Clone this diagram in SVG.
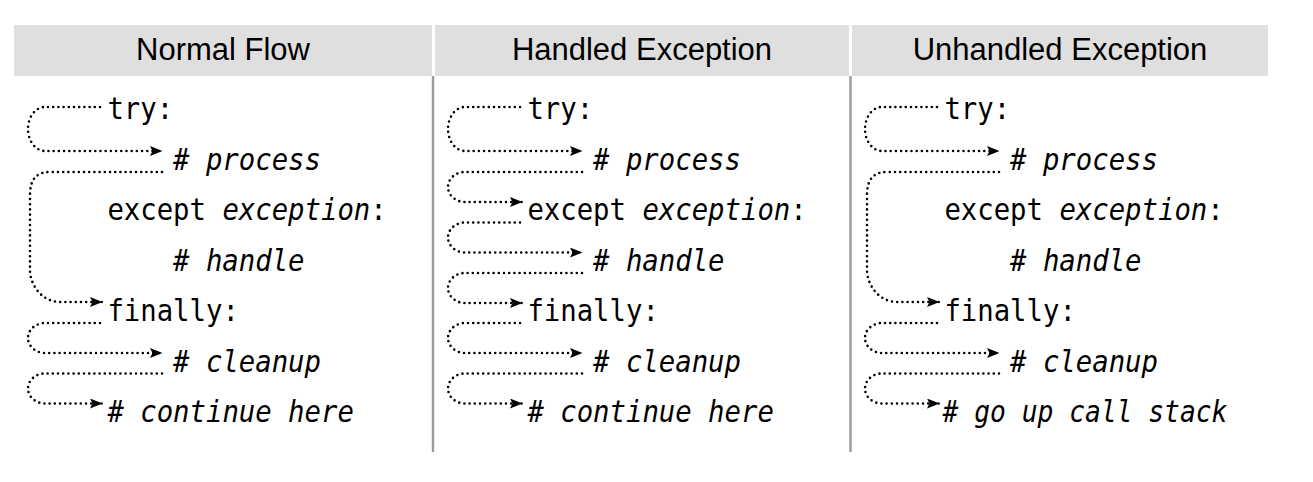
<svg xmlns="http://www.w3.org/2000/svg" width="1313" height="482" viewBox="0 0 1313 482">
<style>
.hdr{fill:#e0dfe0}
.ht{font-family:"Liberation Sans",Arial,sans-serif;font-size:31px;fill:#000;text-anchor:middle}
.code{font-family:"DejaVu Sans Mono",monospace;font-size:30px;fill:#000}
.it{font-style:italic}
.sep{stroke:#9a9a9a;stroke-width:2.4}
.dot{fill:none;stroke:#000;stroke-width:2.6;stroke-linecap:round;stroke-dasharray:0 5.2}
.arr{marker-end:url(#ah)}
</style>
<defs>
<marker id="ah" markerUnits="userSpaceOnUse" markerWidth="14" markerHeight="12" refX="12" refY="5" orient="auto">
<path d="M0,0 L12.5,5 L0,10 L2.5,5 Z" fill="#000"/>
</marker>
</defs>
<rect width="1313" height="482" fill="#fff"/>
<g id="headers">
<g id="h1"><rect class="hdr" x="14" y="25" width="418" height="51"/><text class="ht" x="223" y="60">Normal Flow</text></g>
<g id="h2"><rect class="hdr" x="435" y="25" width="414" height="51"/><text class="ht" x="642" y="60">Handled Exception</text></g>
<g id="h3"><rect class="hdr" x="852" y="25" width="416" height="51"/><text class="ht" x="1060" y="60">Unhandled Exception</text></g>
</g>
<g id="separators">
<line class="sep" x1="433" y1="76" x2="433" y2="452"/>
<line class="sep" x1="850.5" y1="76" x2="850.5" y2="452"/>
</g>
<g id="col1" transform="matrix(0.91 0 0 1 0 0)">
<text id="c1-try" class="code" x="118" y="119.5">try:</text>
<text id="c1-process" class="code it" x="190.2" y="170"># process</text>
<text id="c1-except" class="code" x="118" y="220.5">except <tspan class="it">exception</tspan>:</text>
<text id="c1-handle" class="code it" x="190.2" y="271"># handle</text>
<text id="c1-finally" class="code" x="118" y="321.5">finally:</text>
<text id="c1-cleanup" class="code it" x="190.2" y="372"># cleanup</text>
<text id="c1-continue" class="code it" x="118" y="422.5"># continue here</text>
</g>
<g id="col2" transform="matrix(0.91 0 0 1 420 0)">
<text id="c2-try" class="code" x="118" y="119.5">try:</text>
<text id="c2-process" class="code it" x="190.2" y="170"># process</text>
<text id="c2-except" class="code" x="118" y="220.5">except <tspan class="it">exception</tspan>:</text>
<text id="c2-handle" class="code it" x="190.2" y="271"># handle</text>
<text id="c2-finally" class="code" x="118" y="321.5">finally:</text>
<text id="c2-cleanup" class="code it" x="190.2" y="372"># cleanup</text>
<text id="c2-continue" class="code it" x="118" y="422.5"># continue here</text>
</g>
<g id="col3" transform="matrix(0.91 0 0 1 837 0)">
<text id="c3-try" class="code" x="118" y="119.5">try:</text>
<text id="c3-process" class="code it" x="190.2" y="170"># process</text>
<text id="c3-except" class="code" x="118" y="220.5">except <tspan class="it">exception</tspan>:</text>
<text id="c3-handle" class="code it" x="190.2" y="271"># handle</text>
<text id="c3-finally" class="code" x="118" y="321.5">finally:</text>
<text id="c3-cleanup" class="code it" x="190.2" y="372"># cleanup</text>
<text id="c3-continue" class="code it" x="116" y="422.5" textLength="313" lengthAdjust="spacingAndGlyphs"># go up call stack</text>
</g>
<g id="connectors">
<g id="conn1">
<path class="dot arr" d="M100 107 H45 A17 22 0 0 0 45 151 H162"/>
<path class="dot arr" d="M162 172 H50 C36 172 30 180 30 195 V270 C30 285 42 302 60 302 H102"/>
<path class="dot arr" d="M100 323 H45 A17 15 0 0 0 45 353 H162"/>
<path class="dot arr" d="M162 373.5 H45 A17 15 0 0 0 45 403.5 H102"/>
</g>
<g id="conn2">
<path class="dot arr" d="M520 107 H465 A17 22 0 0 0 465 151 H582"/>
<path class="dot arr" d="M582 172 H465 A17 15 0 0 0 465 202 H522"/>
<path class="dot arr" d="M520 222.5 H465 A17 15 0 0 0 465 252.5 H582"/>
<path class="dot arr" d="M582 273 H465 A17 15 0 0 0 465 303 H522"/>
<path class="dot arr" d="M520 323 H465 A17 15 0 0 0 465 353 H582"/>
<path class="dot arr" d="M582 373.5 H465 A17 15 0 0 0 465 403.5 H522"/>
</g>
<g id="conn3">
<path class="dot arr" d="M937 107 H882 A17 22 0 0 0 882 151 H999"/>
<path class="dot arr" d="M999 172 H887 C873 172 867 180 867 195 V270 C867 285 879 302 897 302 H939"/>
<path class="dot arr" d="M937 323 H882 A17 15 0 0 0 882 353 H999"/>
<path class="dot arr" d="M999 373.5 H882 A17 15 0 0 0 882 403.5 H939"/>
</g>
</g>
</svg>
